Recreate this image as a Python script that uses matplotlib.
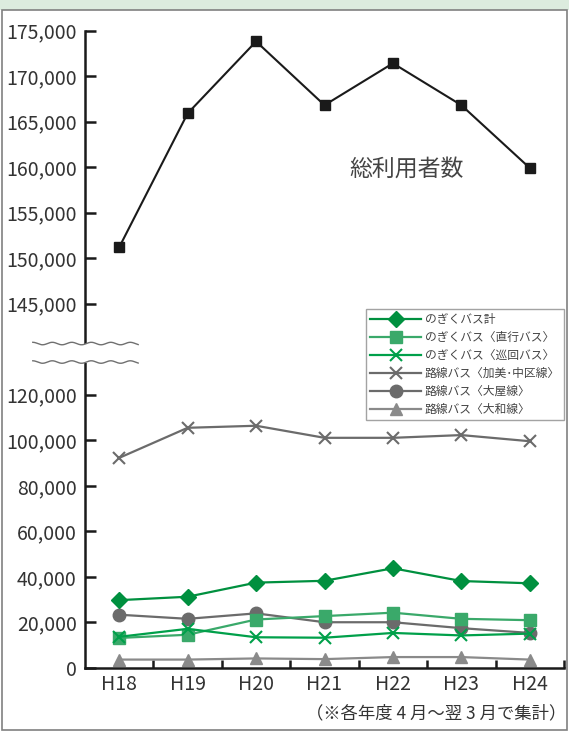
import numpy as np
import matplotlib
matplotlib.use("Agg")
import matplotlib.pyplot as plt
from matplotlib.patches import Rectangle
from matplotlib.lines import Line2D

plt.rcParams['font.family'] = ['Noto Sans CJK JP', 'DejaVu Sans']

# data
years = ['H18', 'H19', 'H20', 'H21', 'H22', 'H23', 'H24']
total = [151200, 165900, 173800, 166800, 171400, 166800, 159900]
nogiku_total = [29800, 31300, 37500, 38300, 43800, 38200, 37200]
nogiku_direct = [13200, 14600, 21300, 22800, 24300, 21600, 21000]
nogiku_loop = [13700, 17200, 13500, 13300, 15400, 14300, 15100]
route_kami = [92300, 105500, 106400, 101100, 101100, 102300, 99600]
route_oya = [23400, 21600, 24000, 20100, 20100, 17500, 15400]
route_yamato = [3700, 3700, 4200, 3900, 4800, 4800, 3700]

lower_ticks = [0, 20000, 40000, 60000, 80000, 100000, 120000]
upper_ticks = [145000, 150000, 155000, 160000, 165000, 170000, 175000]


# broken axis: 0-120,000 at 20,000/unit, 145,000-175,000 at 5,000/unit
def fwd(v):
    v = np.asarray(v, dtype=float)
    return np.where(v <= 120000, v / 20000,
                    np.where(v >= 145000, 8 + (v - 145000) / 5000,
                             6 + (v - 120000) / 12500))


def inv(u):
    u = np.asarray(u, dtype=float)
    return np.where(u <= 6, u * 20000,
                    np.where(u >= 8, 145000 + (u - 8) * 5000,
                             120000 + (u - 6) * 12500))


W, H = 569, 732
fig = plt.figure(figsize=(W / 100, H / 100), dpi=100)

# frame and green band on top
fig.patches.append(Rectangle((0, 1 - 10 / H), 1, 10 / H, transform=fig.transFigure,
                             facecolor='#dcecde', edgecolor='none', zorder=-10))
fig.patches.append(Rectangle((2 / W, 2 / H), (W - 4) / W, (H - 12) / H, transform=fig.transFigure,
                             facecolor='white', edgecolor='#808080', linewidth=1.2, zorder=-10))

ax = fig.add_axes([85 / W, 1 - 668 / H, 479 / W, 637.5 / H])
ax.set_facecolor('none')
ax.set_yscale('function', functions=(fwd, inv))
ax.set_ylim(0, 175000)
ax.set_xlim(-0.5, 6.5)

x = np.arange(len(years))
lw = 1.6
ax.plot(x, total, color='#1a1a1a', lw=1.5, marker='s', ms=7.5, zorder=5)
ax.plot(x, route_kami, color='#6b6b6b', lw=lw, marker='x', ms=8, mew=1.5, label='路線バス〈加美･中区線〉')
ax.plot(x, route_yamato, color='#8a8a8a', lw=lw, marker='^', ms=8.5, label='路線バス〈大和線〉')
ax.plot(x, route_oya, color='#6b6b6b', lw=lw, marker='o', ms=9, label='路線バス〈大屋線〉')
ax.plot(x, nogiku_direct, color='#3aa96a', lw=lw, marker='s', ms=8.5, label='のぎくバス〈直行バス〉')
ax.plot(x, nogiku_loop, color='#00a04a', lw=lw, marker='x', ms=8, mew=1.5, label='のぎくバス〈巡回バス〉')
ax.plot(x, nogiku_total, color='#00903f', lw=lw, marker='D', ms=8, label='のぎくバス計')

ax.text(4.2, 159800, '総利用者数', fontsize=16.5, color='#444444', ha='center', va='center')

# axes styling
for s in ['top', 'right']:
    ax.spines[s].set_visible(False)
for s in ['left', 'bottom']:
    ax.spines[s].set_linewidth(1.8)
    ax.spines[s].set_color('#1a1a1a')

ax.set_yticks(lower_ticks + upper_ticks)
ax.set_yticklabels([f'{t:,}' for t in lower_ticks + upper_ticks])
ax.tick_params(axis='y', direction='in', length=8, width=1.8, pad=6,
               labelsize=14, labelcolor='#333333', color='#1a1a1a')
ax.set_xticks(x)
ax.set_xticklabels(years)
ax.set_xticks(np.arange(0.5, 7, 1), minor=True)
ax.tick_params(axis='x', which='major', length=0, pad=4, labelsize=14, labelcolor='#333333')
ax.tick_params(axis='x', which='minor', direction='in', length=6, width=1.8, color='#1a1a1a')

# axis break with wavy lines
ax.add_patch(Rectangle((-0.01, 0.478), 0.02, 0.03, transform=ax.transAxes,
                       facecolor='white', edgecolor='none', clip_on=False, zorder=6))
wx = np.linspace(-0.109, 0.111, 200)
amp = 2.5 / 637.5
for wy in [0.478, 0.507]:
    wave = wy - amp * (1 - np.cos(2 * np.pi * (wx + 0.109) * 479 / 19.5)) / 2 + amp
    ax.add_line(Line2D(wx, wave, transform=ax.transAxes, color='#707070', lw=1.0,
                       clip_on=False, zorder=7))

# legend in the same order as the reference
handles, labels = ax.get_legend_handles_labels()
order = ['のぎくバス計', 'のぎくバス〈直行バス〉', 'のぎくバス〈巡回バス〉',
         '路線バス〈加美･中区線〉', '路線バス〈大屋線〉', '路線バス〈大和線〉']
hmap = dict(zip(labels, handles))
leg = ax.legend([hmap[k] for k in order], order, loc='upper right',
                bbox_to_anchor=(1.0, 0.5635), borderaxespad=0, frameon=True,
                fancybox=False, edgecolor='#8c8c8c', handlelength=4.3,
                handletextpad=0.3, labelspacing=0.42, borderpad=0.35,
                prop={'size': 8.5})
leg.get_frame().set_linewidth(1.0)
for t in leg.get_texts():
    t.set_color('#444444')

fig.text(566 / W, 1 - 713 / H, '（※各年度 4 月～翌 3 月で集計）', ha='right', va='center',
         fontsize=12.5, color='#333333')

fig.savefig('out.png', dpi=100)
